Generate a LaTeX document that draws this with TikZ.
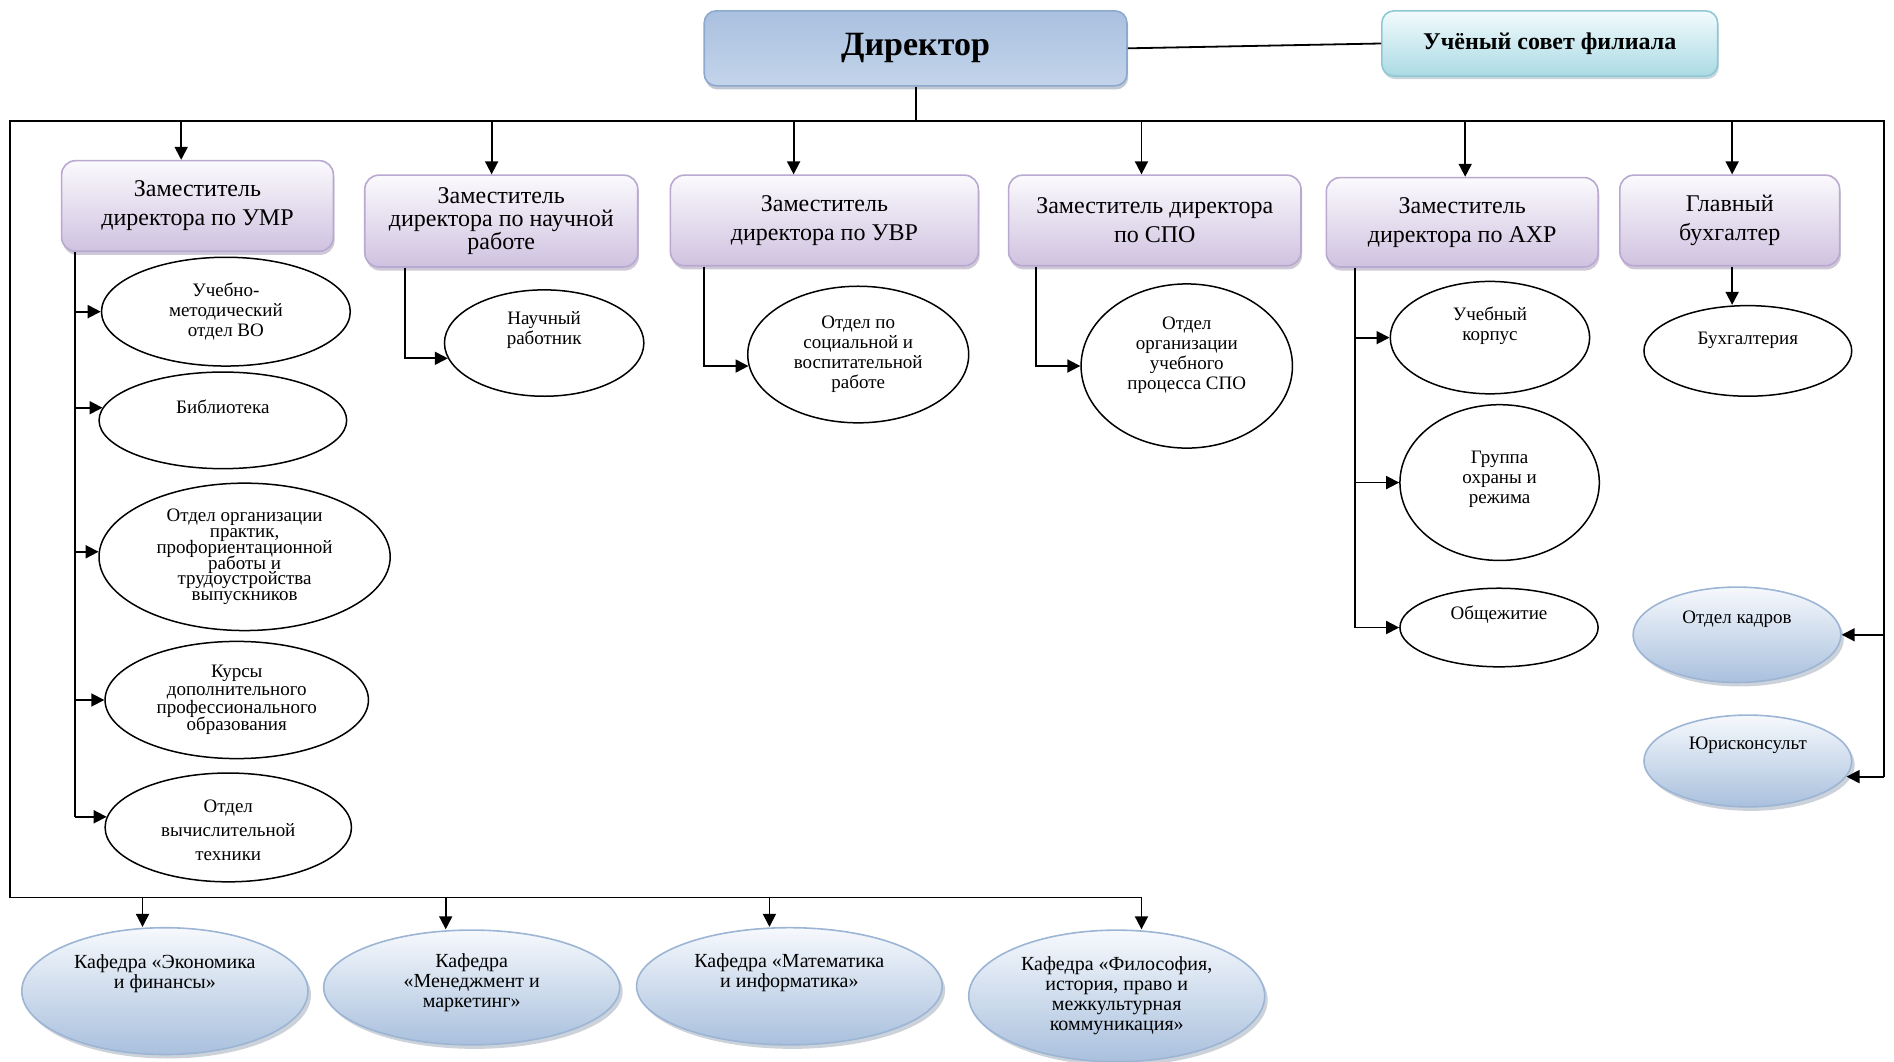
\documentclass[tikz,border=0pt]{standalone}
\usepackage{fontspec}
\setmainfont{Liberation Serif}
\usetikzlibrary{shapes.geometric,arrows.meta,shadows}
\protected\def\mytightls{\lineskiplimit=-20pt\relax}
\definecolor{boxedge}{HTML}{B9A8CF}
\definecolor{boxtop}{HTML}{FBFAFD}
\definecolor{boxbot}{HTML}{CFC2E0}
\definecolor{diredge}{HTML}{8EA9CF}
\definecolor{dirtop}{HTML}{A9C0DF}
\definecolor{dirmid}{HTML}{D3DFEF}
\definecolor{dirbot}{HTML}{C3D4EA}
\definecolor{counedge}{HTML}{8FC8D4}
\definecolor{countop}{HTML}{F2FBFD}
\definecolor{counbot}{HTML}{ABDAE4}
\definecolor{bedge}{HTML}{9DB5D5}
\definecolor{btop}{HTML}{F6F9FD}
\definecolor{bbot}{HTML}{A9C0DD}
\tikzset{
  ln/.style={line width=0.9pt},
  arr/.style={line width=0.9pt,-{Triangle[length=6.5pt,width=6.5pt]}},
  dep/.style={rectangle,rounded corners=7pt,draw=boxedge,line width=0.8pt,
    top color=boxtop,bottom color=boxbot,align=center,inner sep=2pt,
    font=\fontsize{12}{14.5}\selectfont,
    drop shadow={shadow xshift=0.6pt,shadow yshift=-1.8pt,opacity=0.45,fill=boxedge!80!black}},
  ell/.style={ellipse,draw,line width=0.75pt,fill=white,inner sep=0pt},
  bell/.style={ellipse,draw=bedge,line width=0.8pt,top color=btop,bottom color=bbot,inner sep=0pt,
    drop shadow={shadow xshift=1.5pt,shadow yshift=-2pt,opacity=0.35,fill=bedge!70!black}},
  lab/.style={align=center,inner sep=0pt,font=\fontsize{9.5}{#1}\selectfont\mytightls},
  lab/.default=10,
  klab/.style={align=center,inner sep=0pt,font=\fontsize{10}{10}\selectfont}
}
\begin{document}
\begin{tikzpicture}[x=0.604pt,y=-0.604pt]
\useasboundingbox (0,0) rectangle (1568,879);

% top level
\node[rectangle,rounded corners=6pt,draw=diredge,line width=0.8pt,
  top color=dirtop,middle color=dirmid,bottom color=dirbot,
  minimum width=211.4pt,minimum height=37.5pt,
  font=\fontsize{17}{20}\selectfont\bfseries,
  drop shadow={shadow xshift=0.6pt,shadow yshift=-1.8pt,opacity=0.4,fill=diredge!70!black}]
  (dir) at (758,40) {Директор};
\node[rectangle,rounded corners=6pt,draw=counedge,line width=0.8pt,
  top color=countop,bottom color=counbot,
  minimum width=167.9pt,minimum height=32.6pt,
  font=\fontsize{12}{14}\selectfont\bfseries,
  drop shadow={shadow xshift=0.6pt,shadow yshift=-1.5pt,opacity=0.35,fill=counedge!70!black}]
  (cou) at (1283,36) {Учёный совет филиала};

% deputies
\node[dep,minimum width=135.9pt,minimum height=45.3pt] (umr) at (163.5,170.5) {Заместитель\\директора по УМР};
\node[dep,minimum width=136.5pt,minimum height=45.9pt,font=\fontsize{12}{11.5}\selectfont] (nau) at (415,183) {Заместитель\\директора по научной\\работе};
\node[dep,minimum width=154pt,minimum height=45.3pt] (uvr) at (682.5,182.5) {Заместитель\\директора по УВР};
\node[dep,minimum width=146.2pt,minimum height=45.3pt] (spo) at (956,182.5) {Заместитель директора\\по СПО};
\node[dep,minimum width=135.9pt,minimum height=44.7pt] (ahr) at (1210.5,184) {Заместитель\\директора по АХР};
\node[dep,minimum width=109.9pt,minimum height=45.3pt] (glb) at (1432,182.5) {Главный\\бухгалтер};

% UMR units
\node[ell,minimum width=124.4pt,minimum height=54.4pt,
  label={[lab]center:{Учебно-\\методический\\отдел ВО}}] (umo) at (187,258) {};
\node[ell,minimum width=123.8pt,minimum height=48.3pt,
  label={[lab,yshift=6.6pt]center:{Библиотека}}] (bib) at (184.5,348) {};
\node[ell,minimum width=145.6pt,minimum height=73.7pt,
  label={[lab=7.9]center:{Отдел организации\\практик,\\профориентационной\\работы и\\трудоустройства\\выпускников}}] (opr) at (202.5,461) {};
\node[ell,minimum width=131.7pt,minimum height=58.6pt,
  label={[lab=8.9]center:{Курсы\\дополнительного\\профессионального\\образования}}] (kdp) at (196,579.5) {};
\node[ell,minimum width=123.2pt,minimum height=54.4pt,
  label={[lab=12,yshift=-1.2pt]center:{Отдел\\вычислительной\\техники}}] (ovt) at (189,685) {};

% other units
\node[ell,minimum width=99.7pt,minimum height=53.2pt,
  label={[lab,yshift=6.6pt]center:{Научный\\работник}}] (nr) at (450.5,284) {};
\node[ell,minimum width=110.5pt,minimum height=68.3pt,
  label={[lab]center:{Отдел по\\социальной и\\воспитательной\\работе}}] (osv) at (710.5,293.5) {};
\node[ell,minimum width=105.7pt,minimum height=82.1pt,
  label={[lab,yshift=5.4pt]center:{Отдел\\организации\\учебного\\процесса СПО}}] (oup) at (982.5,303) {};
\node[ell,minimum width=99.7pt,minimum height=56.2pt,
  label={[lab,yshift=6pt]center:{Учебный\\корпус}}] (uk) at (1233.5,279.5) {};
\node[ell,minimum width=99.7pt,minimum height=77.9pt,
  label={[lab,yshift=1.8pt]center:{Группа\\охраны и\\режима}}] (gor) at (1241.5,399.5) {};
\node[ell,minimum width=99.1pt,minimum height=39.3pt,
  label={[lab,yshift=6.6pt]center:{Общежитие}}] (obs) at (1241,519.5) {};
\node[ell,minimum width=103.9pt,minimum height=45.3pt,
  label={[lab,yshift=5.4pt]center:{Бухгалтерия}}] (buh) at (1447,290.5) {};

% blue ellipses
\node[bell,minimum width=103.9pt,minimum height=47.7pt,
  label={[lab,yshift=7.8pt]center:{Отдел кадров}}] (kad) at (1438,525.5) {};
\node[bell,minimum width=103.9pt,minimum height=45.9pt,
  label={[lab,yshift=7.8pt]center:{Юрисконсульт}}] (jur) at (1447,630) {};
\node[bell,minimum width=143.1pt,minimum height=63.4pt,
  label={[klab,yshift=8.5pt]center:{Кафедра «Экономика\\и финансы»}}] (k1) at (136.5,820.5) {};
\node[bell,minimum width=148pt,minimum height=57.4pt,
  label={[klab,yshift=2.4pt]center:{Кафедра\\«Менеджмент и\\маркетинг»}}] (k2) at (390.5,817.5) {};
\node[bell,minimum width=152.8pt,minimum height=58.6pt,
  label={[klab,yshift=6.6pt]center:{Кафедра «Математика\\и информатика»}}] (k3) at (653.5,816.5) {};
\node[bell,minimum width=148pt,minimum height=65.8pt,
  label={[klab]center:{Кафедра «Философия,\\история, право и\\межкультурная\\коммуникация»}}] (k4) at (924.5,824.5) {};

% bus lines
\draw[ln] (dir.east) -- (cou.west);
\draw[ln] (dir.south) -- (dir.south |- 0,100);
\draw[ln] (1560,0 |- jur.351) -- (1560,100) -- (8,100) -- (8,743) -- (945,743);

% arrows to deputies
\draw[arr] (150,100) -- (150,0 |- umr.north);
\draw[arr] (407,100) -- (407,0 |- nau.north);
\draw[arr] (657,100) -- (657,0 |- uvr.north);
\draw[arr] (945,100) -- (945,0 |- spo.north);
\draw[arr] (1213,100) -- (1213,0 |- ahr.north);
\draw[arr] (1434,100) -- (1434,0 |- glb.north);

% UMR branch
\draw[ln] (62,0 |- umr.south) -- (62,0 |- ovt.175);
\draw[arr] (62,0 |- umo.west) -- (umo.west);
\draw[arr] (62,0 |- bib.174) -- (bib.174);
\draw[arr] (62,0 |- opr.178) -- (opr.178);
\draw[arr] (62,0 |- kdp.west) -- (kdp.west);
\draw[arr] (62,0 |- ovt.175) -- (ovt.175);

% single branches
\draw[arr] (335,0 |- nau.south) |- (nr.189);
\draw[arr] (583,0 |- uvr.south) |- (osv.186);
\draw[arr] (858,0 |- spo.south) |- (oup.west);

% AHR branch
\draw[ln] (1122,0 |- ahr.south) -- (1122,0 |- obs.west);
\draw[arr] (1122,0 |- uk.west) -- (uk.west);
\draw[arr] (1122,0 |- gor.west) -- (gor.west);
\draw[arr] (1122,0 |- obs.west) -- (obs.west);

% accountant
\draw[arr] (1434,0 |- glb.south) -- (1434,0 |- buh.north);

% right side
\draw[arr] (1560,0 |- kad.east) -- (kad.east);
\draw[arr] (1560,0 |- jur.351) -- (jur.351);

% departments
\draw[arr] (118,743) -- (118,0 |- k1.north);
\draw[arr] (369,743) -- (369,0 |- k2.north);
\draw[arr] (637,743) -- (637,0 |- k3.north);
\draw[arr] (945,743) -- (945,0 |- k4.north);
\end{tikzpicture}
\end{document}
